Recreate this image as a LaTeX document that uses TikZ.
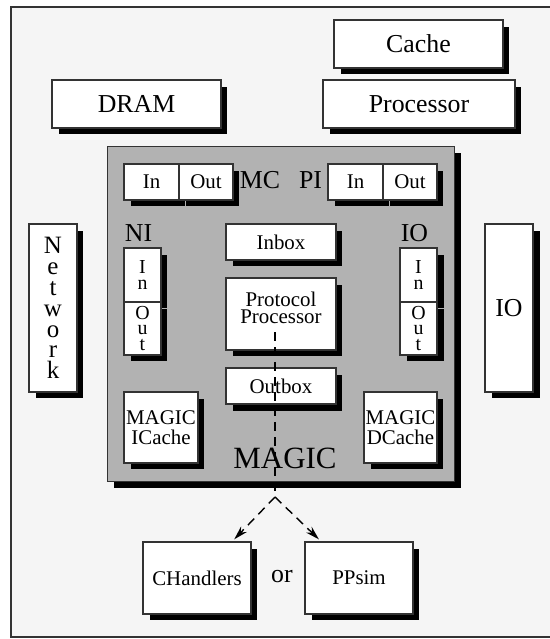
\documentclass[tikz,border=0pt]{standalone}
\usepackage{fontspec}
\setmainfont{Liberation Serif}
\usetikzlibrary{arrows.meta, shadows}

\begin{document}
\begin{tikzpicture}[
  x=0.02cm, y=-0.02cm,
  >={Stealth[length=0.28cm, width=0.16cm]},
  unit/.style={rectangle, draw=black!80, line width=0.6pt, fill=#1, inner sep=0pt,
    drop shadow={fill=black, opacity=1, shadow xshift=0.13cm, shadow yshift=-0.13cm}},
  unit/.default={white},
  tag/.style={inner sep=0pt},
  bigtext/.style={font=\fontsize{14.7}{17}\selectfont},
  smalltext/.style={font=\fontsize{11.9}{11.3}\selectfont},
  chiptext/.style={font=\fontsize{17.6}{20}\selectfont},
  frame/.style={draw=black!80, line width=1pt},
  flow/.style={line width=0.8pt, dash pattern=on 0.18cm off 0.12cm, shorten >=0.06cm},
]

% --- Frame ---
\useasboundingbox (0,0) rectangle (550,639);
\fill[black!4] (11,7) rectangle (550,637);
\draw[frame] (550,7) -- (11,7) -- (11,637) -- (550,637);

% --- Outside the chip ---
\node[unit, bigtext, minimum width=3.38cm, minimum height=0.96cm] (cache) at (418.5,44) {Cache};
\node[unit, bigtext, minimum width=3.84cm, minimum height=0.96cm] (proc)  at (419,104)  {Processor};
\node[unit, bigtext, minimum width=3.38cm, minimum height=0.96cm] (dram)  at (136.5,104) {DRAM};
\node[unit, font=\fontsize{14.2}{11.9}\selectfont, align=center,
  minimum width=0.96cm, minimum height=3.36cm] (net) at (53,308) {N\\e\\t\\w\\o\\r\\k};
\node[unit, bigtext, minimum width=0.96cm, minimum height=3.36cm] (io) at (509,308) {IO};

% --- MAGIC chip ---
\node[unit=black!30, minimum width=6.96cm, minimum height=6.72cm] (magic) at (281,314) {};

% memory controller and processor interface
\node[unit, smalltext, minimum width=1.1cm, minimum height=0.72cm]  (mcin)  at (151.5,182) {In};
\node[unit, smalltext, minimum width=1.08cm, minimum height=0.72cm] (mcout) at (206,182)   {Out};
\node[tag, bigtext] (mclbl) at (260,180) {MC};
\node[tag, bigtext] (pilbl) at (310.5,180) {PI};
\node[unit, smalltext, minimum width=1.1cm, minimum height=0.72cm]  (piin)  at (355.5,182) {In};
\node[unit, smalltext, minimum width=1.08cm, minimum height=0.72cm] (piout) at (410,182)   {Out};

% network and I/O interfaces
\node[tag, bigtext] (nilbl) at (138.5,233) {NI};
\node[unit, font=\fontsize{11.3}{8.8}\selectfont, align=center,
  minimum width=0.74cm, minimum height=1.08cm] (niin)  at (142.5,275)   {I\\n};
\node[unit, font=\fontsize{11.3}{8.8}\selectfont, align=center,
  minimum width=0.74cm, minimum height=1.06cm] (niout) at (142.5,328.5) {O\\u\\t};
\node[tag, bigtext] (iolbl) at (414.5,233) {IO};
\node[unit, font=\fontsize{11.3}{8.8}\selectfont, align=center,
  minimum width=0.74cm, minimum height=1.08cm] (ioin)  at (418.5,275)   {I\\n};
\node[unit, font=\fontsize{11.3}{8.8}\selectfont, align=center,
  minimum width=0.74cm, minimum height=1.06cm] (ioout) at (418.5,328.5) {O\\u\\t};

% protocol processor path
\node[unit, smalltext, minimum width=2.2cm, minimum height=0.72cm] (inbox) at (281,242) {Inbox};
\node[unit, minimum width=2.2cm, minimum height=1.44cm] (pp) at (281,314) {};
\node[tag, font=\fontsize{11.9}{9.6}\selectfont, align=center] (pplbl) at (281,308)
  {Protocol\\Processor};
\node[unit, smalltext, minimum width=2.2cm, minimum height=0.72cm] (outbox) at (281,386) {Outbox};

% caches
\node[unit, smalltext, align=center, minimum width=1.48cm, minimum height=1.42cm]
  (icache) at (161,427.5) {MAGIC\\ICache};
\node[unit, smalltext, align=center, minimum width=1.46cm, minimum height=1.42cm]
  (dcache) at (400.5,427.5) {MAGIC\\DCache};
\node[tag, chiptext] (magiclbl) at (285,458) {MAGIC};

% --- Handler choice ---
\node[unit, smalltext, minimum width=2.16cm, minimum height=1.44cm] (chand) at (197,578) {CHandlers};
\node[tag, bigtext] (orlbl) at (282,577) {or};
\node[unit, smalltext, minimum width=2.16cm, minimum height=1.44cm] (ppsim) at (359,578) {PPsim};

\coordinate (ppsrc) at (275,332);
\coordinate (fork)  at (275,497);
\draw[flow] (ppsrc) -- (fork);
\draw[flow, ->] (fork) -- (chand);
\draw[flow, ->] (fork) -- (ppsim);

\end{tikzpicture}
\end{document}
